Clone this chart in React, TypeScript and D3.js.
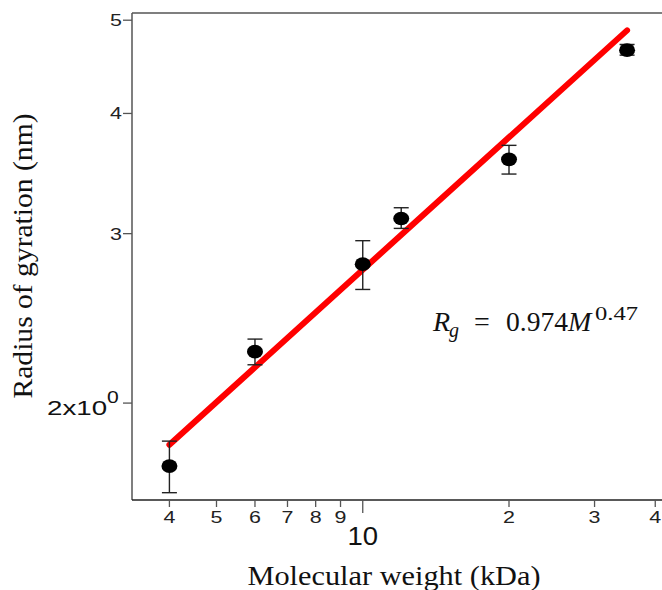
import React from "react"
import * as d3 from "d3"

// molecular weight (kDa) and measured radius of gyration (nm)
const mw = [4, 6, 10, 12, 20, 35]
const rg = [1.72, 2.262, 2.789, 3.111, 3.584, 4.654]
const rgLow = [1.614, 2.192, 2.625, 3.038, 3.46, 4.599]
const rgHigh = [1.826, 2.331, 2.95, 3.192, 3.706, 4.718]

// end points of the power-law fit line
const fitMw = [4, 35]
const fitRg = [1.81, 4.88]

const xMinorTicks = [4, 5, 6, 7, 8, 9]
const xMajorTicks = [20, 30, 40]
const xMajorLabels = ["2", "3", "4"]
const yTicks = [3, 4, 5]

const W = 662
const H = 590

export default function App() {
  const x = d3.scaleLog().domain([3.35, 41.3]).range([132, 662])
  const y = d3.scaleLog().domain([1.586, 5.087]).range([500, 13])

  const line = d3.line<number>()
    .x((d, i) => x(fitMw[i]))
    .y(d => y(d))

  const axisCol = "#555"
  const sans = "'Liberation Sans', Arial, sans-serif"
  const serif = "'Liberation Serif', 'Times New Roman', serif"

  return (
    <svg width={W} height={H} style={{ position: "absolute", left: 0, top: 0, background: "#fff" }}>
      {/* frame */}
      <line x1={132} x2={W} y1={13} y2={13} stroke={axisCol} strokeWidth={1.5} />
      <line x1={132} x2={132} y1={13} y2={500} stroke={axisCol} strokeWidth={1.5} />
      <line x1={132} x2={W} y1={500} y2={500} stroke="#222" strokeWidth={1.5} />

      {/* y ticks */}
      {yTicks.map(t => (
        <g key={t}>
          <line x1={123} x2={132} y1={y(t)} y2={y(t)} stroke={axisCol} strokeWidth={1.3} />
          <text transform={`translate(122,${y(t)}) scale(1.3,1)`} textAnchor="end" dy="0.36em"
            fontFamily={sans} fontSize={16.5} fill="#222">{t}</text>
        </g>
      ))}
      <line x1={123} x2={132} y1={y(2)} y2={y(2)} stroke={axisCol} strokeWidth={1.3} />
      <text transform={`translate(47,${y(2) + 12}) scale(1.32,1)`} fontFamily={sans} fontSize={21} fill="#111">
        2x10<tspan fontSize={16} dy={-12}>0</tspan>
      </text>

      {/* x ticks */}
      {xMinorTicks.map(t => (
        <g key={t}>
          <line x1={x(t)} x2={x(t)} y1={500} y2={507} stroke={axisCol} strokeWidth={1.3} />
          <text transform={`translate(${x(t)},523) scale(1.3,1)`} textAnchor="middle"
            fontFamily={sans} fontSize={16.5} fill="#222">{t}</text>
        </g>
      ))}
      <line x1={x(10)} x2={x(10)} y1={500} y2={513} stroke={axisCol} strokeWidth={1.3} />
      <text transform={`translate(${x(10)},545) scale(1.1,1)`} textAnchor="middle"
        fontFamily={sans} fontSize={25} fill="#111">10</text>
      {xMajorTicks.map((t, i) => (
        <g key={t}>
          <line x1={x(t)} x2={x(t)} y1={500} y2={507} stroke={axisCol} strokeWidth={1.3} />
          <text transform={`translate(${x(t)},523) scale(1.3,1)`} textAnchor="middle"
            fontFamily={sans} fontSize={16.5} fill="#222">{xMajorLabels[i]}</text>
        </g>
      ))}

      {/* fit line */}
      <path d={line(fitRg) || ""} fill="none" stroke="#ff0000" strokeWidth={6} strokeLinecap="round" />

      {/* error bars and points */}
      {mw.map((m, i) => (
        <g key={m} stroke="#222" strokeWidth={1.4}>
          <line x1={x(m)} x2={x(m)} y1={y(rgLow[i])} y2={y(rgHigh[i])} />
          <line x1={x(m) - 7.5} x2={x(m) + 7.5} y1={y(rgLow[i])} y2={y(rgLow[i])} />
          <line x1={x(m) - 7.5} x2={x(m) + 7.5} y1={y(rgHigh[i])} y2={y(rgHigh[i])} />
          <ellipse cx={x(m)} cy={y(rg[i])} rx={8} ry={6.8} fill="#000" stroke="none" />
        </g>
      ))}

      {/* equation */}
      <g fontFamily={serif} fill="#111">
        <text x={433} y={331} fontSize={28} fontStyle="italic">R</text>
        <text x={449} y={337} fontSize={20} fontStyle="italic">g</text>
        <text x={474} y={331} fontSize={28}>=</text>
        <text x={506} y={331} fontSize={28} textLength={62} lengthAdjust="spacingAndGlyphs">0.974</text>
        <text x={568} y={331} fontSize={28} fontStyle="italic">M</text>
        <text x={595} y={320} fontSize={19} textLength={43} lengthAdjust="spacingAndGlyphs">0.47</text>
      </g>

      {/* axis titles */}
      <text x={394} y={585} textAnchor="middle" fontFamily={serif} fontSize={28} fill="#111"
        textLength={293} lengthAdjust="spacingAndGlyphs">Molecular weight (kDa)</text>
      <text transform="translate(32,256) rotate(-90)" textAnchor="middle" fontFamily={serif} fontSize={28}
        fill="#111" textLength={285} lengthAdjust="spacingAndGlyphs">Radius of gyration (nm)</text>
    </svg>
  )
}
